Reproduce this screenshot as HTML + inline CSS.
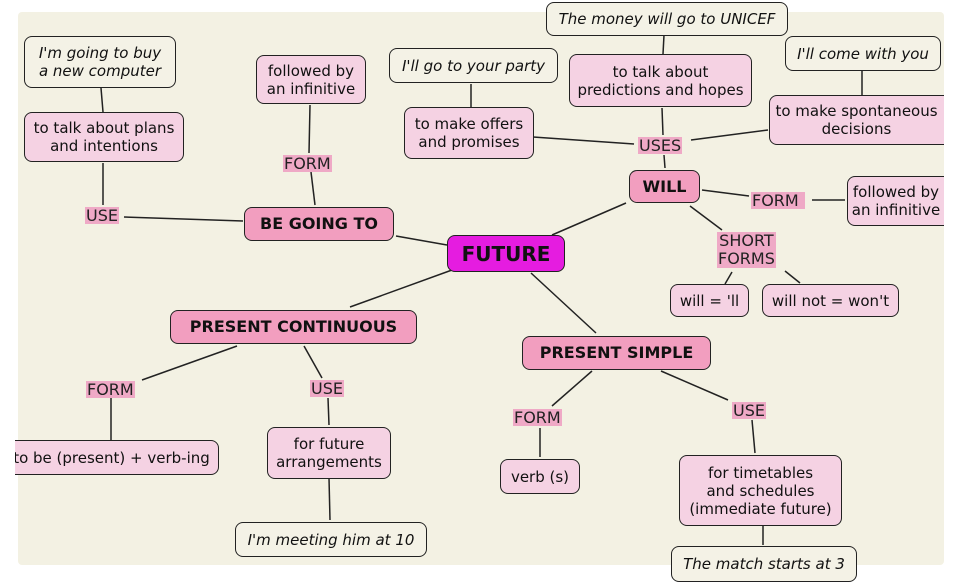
<!DOCTYPE html>
<html><head><meta charset="utf-8"><style>
body{margin:0;width:960px;height:580px;background:#fff;position:relative;overflow:hidden;font-family:"DejaVu Sans","Liberation Sans",sans-serif;}
#bg{position:absolute;left:18px;top:12px;width:926px;height:553px;background:#f3f1e3;border-radius:4px;}
.n{position:absolute;box-sizing:border-box;border:1.6px solid #222;border-radius:8px;background:#f5d2e3;color:#111;font-size:15px;line-height:18px;text-align:center;display:flex;align-items:center;justify-content:center;white-space:nowrap;}
.i{background:#f4f2e6;font-style:italic;}
.b{background:#f29ebf;font-weight:bold;font-size:16px;}
.l{position:absolute;background:#efa9c6;color:#222;font-size:16px;line-height:17px;padding:0 1px;text-align:center;}
svg{position:absolute;left:0;top:0;}
.w{position:absolute;background:#fff;}
</style></head><body>
<div id="bg"></div>
<svg width="960" height="580"><g stroke="#222" stroke-width="1.5" fill="none">
<line x1="101" y1="88" x2="103" y2="112"/><line x1="103" y1="163" x2="103" y2="205"/>
<line x1="124" y1="217" x2="243" y2="221"/><line x1="310" y1="105" x2="309" y2="153"/>
<line x1="311" y1="172" x2="315" y2="205"/><line x1="396" y1="236" x2="447" y2="245"/>
<line x1="471" y1="84" x2="471" y2="107"/><line x1="533" y1="137" x2="634" y2="144"/>
<line x1="664" y1="35" x2="663" y2="54"/><line x1="662" y1="108" x2="663" y2="135"/>
<line x1="664" y1="155" x2="665" y2="168"/><line x1="691" y1="140" x2="768" y2="130"/>
<line x1="862" y1="71" x2="862" y2="95"/><line x1="702" y1="190" x2="749" y2="196"/>
<line x1="812" y1="200" x2="845" y2="200"/><line x1="690" y1="206" x2="722" y2="230"/>
<line x1="732" y1="272" x2="725" y2="284"/><line x1="785" y1="271" x2="800" y2="283"/>
<line x1="626" y1="203" x2="552" y2="235"/><line x1="452" y1="270" x2="350" y2="307"/>
<line x1="531" y1="273" x2="596" y2="333"/><line x1="237" y1="346" x2="142" y2="380"/>
<line x1="304" y1="346" x2="322" y2="378"/><line x1="111" y1="398" x2="111" y2="440"/>
<line x1="328" y1="398" x2="329" y2="425"/><line x1="329" y1="478" x2="330" y2="520"/>
<line x1="592" y1="371" x2="552" y2="406"/><line x1="661" y1="371" x2="728" y2="400"/>
<line x1="540" y1="428" x2="540" y2="457"/><line x1="752" y1="420" x2="755" y2="453"/>
<line x1="763" y1="525" x2="763" y2="545"/>
</g></svg>
<div class="n i" style="left:24px;top:36px;width:152px;height:52px">I'm going to buy<br>a new computer</div>
<div class="n" style="left:24px;top:112px;width:160px;height:50px">to talk about plans<br>and intentions</div>
<div class="n" style="left:256px;top:55px;width:110px;height:49px">followed by<br>an infinitive</div>
<div class="n i" style="left:389px;top:48px;width:169px;height:35px">I'll go to your party</div>
<div class="n" style="left:404px;top:107px;width:130px;height:52px">to make offers<br>and promises</div>
<div class="n i" style="left:546px;top:2px;width:242px;height:34px">The money will go to UNICEF</div>
<div class="n" style="left:569px;top:54px;width:183px;height:53px">to talk about<br>predictions and hopes</div>
<div class="n i" style="left:785px;top:36px;width:156px;height:35px">I'll come with you</div>
<div class="n" style="left:769px;top:95px;width:191px;height:50px;padding-right:16px">to make spontaneous<br>decisions</div>
<div class="n" style="left:847px;top:176px;width:120px;height:50px;padding-right:22px">followed by<br>an infinitive</div>
<div class="w" style="left:944px;top:80px;width:20px;height:160px"></div>
<div class="n b" style="left:629px;top:170px;width:71px;height:33px">WILL</div>
<div class="n b" style="left:447px;top:235px;width:118px;height:37px;background:#e51ce0;font-size:20px">FUTURE</div>
<div class="n b" style="left:244px;top:207px;width:150px;height:34px">BE GOING TO</div>
<div class="n b" style="left:170px;top:310px;width:247px;height:34px">PRESENT CONTINUOUS</div>
<div class="n b" style="left:522px;top:336px;width:189px;height:34px">PRESENT SIMPLE</div>
<div class="n" style="left:670px;top:284px;width:79px;height:33px">will = 'll</div>
<div class="n" style="left:762px;top:284px;width:137px;height:33px">will not = won't</div>
<div class="n" style="left:-20px;top:440px;width:239px;height:35px;padding-left:24px">to be (present) + verb-ing</div>
<div class="w" style="left:0;top:430px;width:15px;height:50px"></div>
<div class="n" style="left:267px;top:427px;width:124px;height:52px">for future<br>arrangements</div>
<div class="n i" style="left:235px;top:522px;width:192px;height:35px">I'm meeting him at 10</div>
<div class="n" style="left:500px;top:459px;width:80px;height:35px">verb (s)</div>
<div class="n" style="left:679px;top:455px;width:163px;height:71px">for timetables<br>and schedules<br>(immediate future)</div>
<div class="n i" style="left:671px;top:546px;width:186px;height:36px">The match starts at 3</div>
<div class="l" style="left:85px;top:207px">USE</div>
<div class="l" style="left:283px;top:155px">FORM</div>
<div class="l" style="left:638px;top:137px">USES</div>
<div class="l" style="left:751px;top:192px;padding-right:6px">FORM</div>
<div class="l" style="left:717px;top:232px;line-height:18px">SHORT<br>FORMS</div>
<div class="l" style="left:86px;top:381px">FORM</div>
<div class="l" style="left:310px;top:380px">USE</div>
<div class="l" style="left:513px;top:409px">FORM</div>
<div class="l" style="left:732px;top:402px">USE</div>
</body></html>
